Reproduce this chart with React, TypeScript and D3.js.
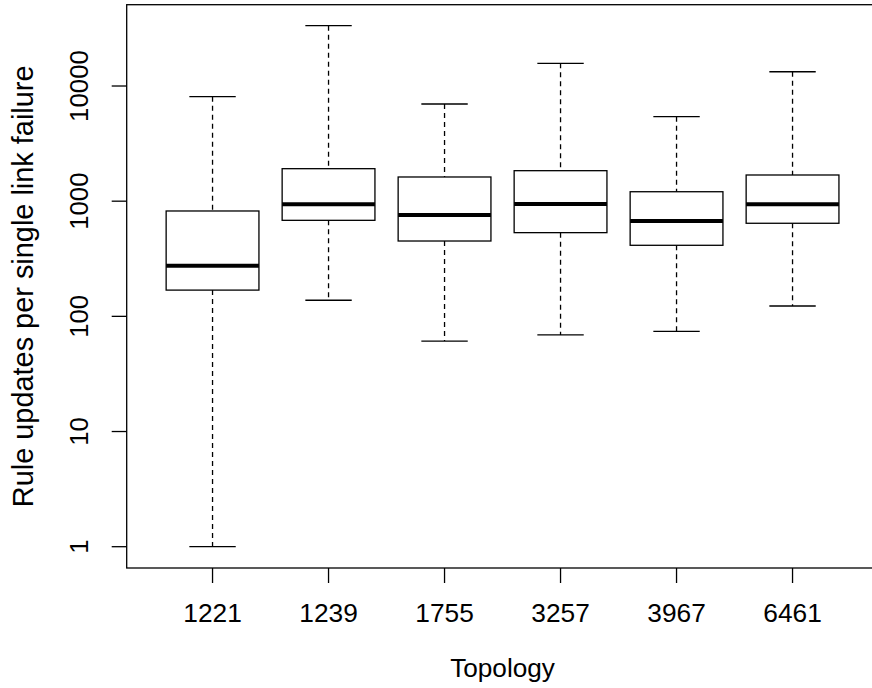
import React from "react";
import * as d3 from "d3";

const categories = ["1221", "1239", "1755", "3257", "3967", "6461"];
const whiskerLow = [1, 138, 61, 69, 74, 123];
const q1 = [169, 682, 451, 533, 414, 643];
const medians = [275, 940, 760, 946, 673, 940];
const q3 = [822, 1915, 1622, 1840, 1208, 1688];
const whiskerHigh = [8080, 33400, 6980, 15750, 5420, 13300];
const yTicks = [1, 10, 100, 1000, 10000];
const yTitle = "Rule updates per single link failure";
const xTitle = "Topology";

const W = 872;
const H = 688;
const left = 126.7;
const top = 4.7;
const bottom = 568;
const unit = 116;

export default function App() {
  const x = d3.scaleLinear().domain([0.26, 6.74]).range([left, left + 6.48 * unit]);
  const y = d3.scaleLog().domain([Math.pow(10, -0.185), Math.pow(10, 4.706)]).range([bottom, top]);
  const boxHalf = x(0.4) - x(0);
  const capHalf = x(0.2) - x(0);
  const font = "'Liberation Sans', Arial, Helvetica, sans-serif";
  const stroke = "#000";
  return (
    <svg width={W} height={H} style={{ position: "absolute", left: 0, top: 0, background: "#fff" }}>
      <rect x={0} y={0} width={W} height={H} fill="#fff" />
      <rect x={left} y={top} width={x(6.74) - left} height={bottom - top} fill="none" stroke={stroke} strokeWidth={1.3} />
      {categories.map((c, i) => {
        const cx = x(i + 1);
        return (
          <g key={c}>
            <line x1={cx} x2={cx} y1={y(whiskerHigh[i])} y2={y(q3[i])} stroke={stroke} strokeWidth={1.3} strokeDasharray="5 4" />
            <line x1={cx} x2={cx} y1={y(q1[i])} y2={y(whiskerLow[i])} stroke={stroke} strokeWidth={1.3} strokeDasharray="5 4" />
            <line x1={cx - capHalf} x2={cx + capHalf} y1={y(whiskerHigh[i])} y2={y(whiskerHigh[i])} stroke={stroke} strokeWidth={1.3} />
            <line x1={cx - capHalf} x2={cx + capHalf} y1={y(whiskerLow[i])} y2={y(whiskerLow[i])} stroke={stroke} strokeWidth={1.3} />
            <rect x={cx - boxHalf} y={y(q3[i])} width={boxHalf * 2} height={y(q1[i]) - y(q3[i])} fill="#fff" stroke={stroke} strokeWidth={1.3} />
            <line x1={cx - boxHalf} x2={cx + boxHalf} y1={y(medians[i])} y2={y(medians[i])} stroke={stroke} strokeWidth={4} />
            <line x1={cx} x2={cx} y1={bottom} y2={bottom + 15} stroke={stroke} strokeWidth={1.3} />
            <text x={cx} y={622} textAnchor="middle" fontFamily={font} fontSize={26.3} fill="#000">{c}</text>
          </g>
        );
      })}
      {yTicks.map((t) => (
        <g key={t}>
          <line x1={left - 15} x2={left} y1={y(t)} y2={y(t)} stroke={stroke} strokeWidth={1.3} />
          <text transform={`translate(88,${y(t)}) rotate(-90)`} textAnchor="middle" fontFamily={font} fontSize={25.8} fill="#000">{t}</text>
        </g>
      ))}
      <text x={(left + x(6.74)) / 2} y={677} textAnchor="middle" fontFamily={font} fontSize={26.2} fill="#000">{xTitle}</text>
      <text transform={`translate(33,${(top + bottom) / 2}) rotate(-90)`} textAnchor="middle" fontFamily={font} fontSize={28.9} fill="#000">{yTitle}</text>
    </svg>
  );
}
